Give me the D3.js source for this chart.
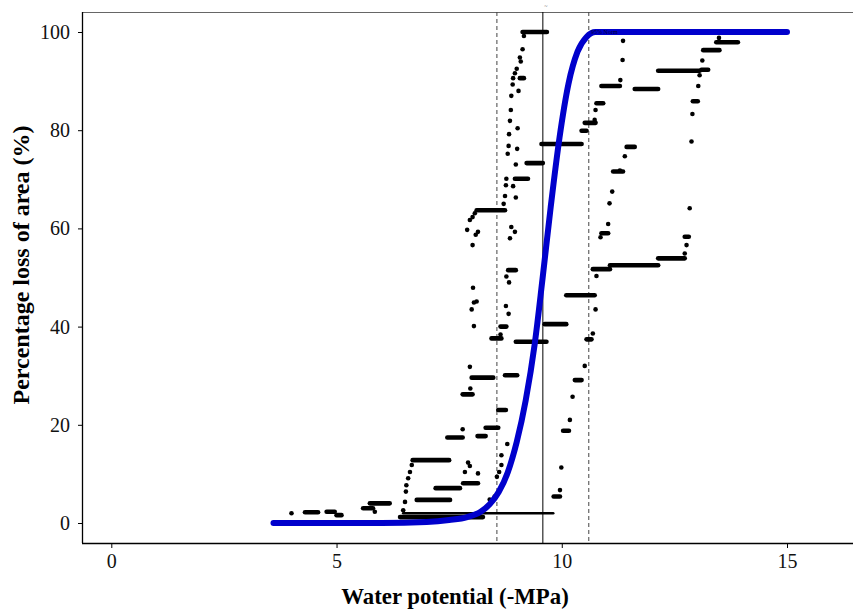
<!DOCTYPE html>
<html>
<head>
<meta charset="utf-8">
<script src="https://cdn.jsdelivr.net/npm/d3@7"></script>
<style>
  body { margin: 0; background: #fff; }
  text { font-family: "Liberation Serif", "Times New Roman", serif; }
</style>
</head>
<body>
<svg width="853" height="612"></svg>
<script>
// fitted curve
var curveX = [3.6, 6.0, 7.0, 7.5, 7.9, 8.2, 8.4, 8.6, 8.8, 9.0, 9.2, 9.4, 9.57, 9.75, 9.95, 10.15, 10.35, 10.55, 10.75, 15.0];
var curveY = [0, 0, 0.2, 0.6, 1.2, 2.3, 3.8, 6.3, 10.3, 16.5, 25.0, 36.5, 49.5, 64, 78.5, 89.5, 96, 99, 100, 100];

// reference lines: lower CI, P50, upper CI
var vlines = [8.56, 9.58, 10.6];

// single measured points [water potential, PLA]
var dots = [
  [9.16, 99.2], [9.13, 96.5], [9.07, 94.8], [9.09, 94.0], [9.00, 92.5], [8.96, 91.6], [8.92, 90.6],
  [8.91, 89.3], [9.04, 88.0], [8.88, 87.0], [8.87, 84.1], [8.85, 81.9], [9.02, 80.4], [8.83, 79.2],
  [8.82, 76.8], [9.01, 76.2], [8.80, 75.2], [8.98, 73.0], [8.77, 70.1], [8.76, 68.8], [8.92, 68.6],
  [8.74, 66.6], [8.98, 66.3], [8.71, 65.0], [8.88, 60.3], [8.96, 59.3], [8.85, 58.0], [8.77, 50.2],
  [8.83, 49.0], [8.76, 44.2], [8.82, 42.6], [8.64, 38.4], [7.96, 31.8], [7.97, 27.4], [7.80, 19.1],
  [8.79, 16.1], [8.66, 13.8], [8.66, 11.8], [8.61, 10.4], [8.56, 9.4], [8.51, 5.4], [8.40, 4.8],
  [8.07, 63.1], [8.02, 62.3], [7.96, 61.7], [7.90, 59.7], [8.09, 58.7], [8.14, 59.3], [8.02, 56.6],
  [8.03, 47.9], [8.05, 44.9], [8.11, 45.1], [8.00, 43.5], [8.05, 40.1],
  [6.67, 11.8], [6.63, 10.4], [6.59, 9.1], [6.55, 7.7], [6.54, 6.4], [6.52, 4.3], [6.48, 2.6],
  [7.92, 12.3], [7.96, 11.6], [7.85, 10.4], [8.14, 10.1], [4.00, 2.0], [5.85, 2.3],
  [10.75, 43.5], [10.69, 38.6], [10.51, 32.0], [10.24, 25.7], [10.18, 21.0], [9.99, 11.3], [9.96, 6.7],
  [10.77, 50.3], [10.73, 82.1], [10.75, 84.1], [11.30, 90.2], [11.35, 94.3], [11.36, 98.2],
  [11.40, 74.7], [11.29, 71.8], [11.12, 67.5], [11.06, 65.1], [11.03, 60.9], [10.86, 58.2],
  [12.88, 77.7], [12.90, 83.3], [13.03, 89.0], [13.06, 91.2], [13.12, 94.2], [13.49, 98.8],
  [12.84, 64.1], [12.77, 56.6], [12.73, 54.9]
];

// runs of overlapping points at one PLA value [from, to, PLA]
var runs = [
  [9.13, 9.67, 100.0], [9.07, 9.16, 90.6], [9.22, 9.58, 73.3], [8.96, 9.25, 70.1], [8.11, 8.74, 63.7],
  [8.81, 8.98, 51.5], [8.64, 8.77, 40.0], [8.44, 8.66, 37.6], [8.98, 9.66, 36.9], [8.00, 8.48, 29.6],
  [8.74, 9.01, 30.1], [7.80, 8.02, 26.2], [8.59, 8.76, 23.0], [8.31, 8.59, 19.4], [7.46, 7.80, 17.4],
  [8.13, 8.31, 17.7], [6.69, 7.50, 12.8], [7.81, 8.14, 8.1], [7.20, 7.74, 7.1], [6.78, 7.52, 4.7],
  [6.41, 8.25, 1.2], [4.30, 4.59, 2.2], [4.78, 4.96, 2.3], [5.00, 5.11, 1.6], [5.59, 5.81, 3.0],
  [5.74, 6.18, 4.0], [9.62, 10.10, 40.5], [10.55, 10.66, 37.4], [10.29, 10.44, 29.1], [10.03, 10.16, 18.8],
  [9.82, 9.96, 5.4], [10.69, 11.07, 51.7], [11.07, 12.14, 52.5], [12.14, 12.73, 53.9], [10.10, 10.73, 46.4],
  [9.55, 10.44, 77.2], [10.44, 10.55, 79.9], [10.51, 10.75, 81.5], [10.77, 10.92, 85.5], [10.88, 11.29, 89.0],
  [11.62, 12.14, 88.4], [12.14, 13.06, 92.1], [13.10, 13.25, 92.3], [13.14, 13.50, 96.3], [13.43, 13.91, 97.9],
  [12.91, 13.02, 85.9], [12.73, 12.82, 58.3], [11.44, 11.62, 76.6], [11.14, 11.36, 71.6], [10.88, 11.03, 59.0]
];
var thinRuns = [[6.48, 9.81, 2.0]];

var xTicks = [0, 5, 10, 15];
var yTicks = [0, 20, 40, 60, 80, 100];

var svg = d3.select("svg");
// panel edges (top/left/... names clash with window globals)
var pLeft = 82, pTop = 12, pBottom = 543, pRight = 870;

var x = d3.scaleLinear().domain([0, 15]).range([111.3, 787]);
var y = d3.scaleLinear().domain([0, 100]).range([523, 32]);

// panel top border
svg.append("line").attr("x1", pLeft).attr("x2", pRight).attr("y1", pTop + 0.5).attr("y2", pTop + 0.5)
  .attr("stroke", "#666").attr("stroke-width", 1.2);

// reference lines
svg.append("g").selectAll("line").data(vlines).enter().append("line")
  .attr("x1", function(d) { return x(d); })
  .attr("x2", function(d) { return x(d); })
  .attr("y1", pTop).attr("y2", pBottom)
  .attr("stroke", function(d, i) { return i == 1 ? "#000" : "#444"; })
  .attr("stroke-width", 1)
  .attr("stroke-dasharray", function(d, i) { return i == 1 ? null : "4,3"; });

// points
var pts = svg.append("g").attr("class", "points");
pts.selectAll("line.run").data(runs).enter().append("line")
  .attr("class", "run")
  .attr("x1", function(d) { return x(d[0]); })
  .attr("x2", function(d) { return x(d[1]); })
  .attr("y1", function(d) { return y(d[2]); })
  .attr("y2", function(d) { return y(d[2]); })
  .attr("stroke", "#000").attr("stroke-width", 4.6).attr("stroke-linecap", "round");
pts.selectAll("line.thin").data(thinRuns).enter().append("line")
  .attr("class", "thin")
  .attr("x1", function(d) { return x(d[0]); })
  .attr("x2", function(d) { return x(d[1]); })
  .attr("y1", function(d) { return y(d[2]); })
  .attr("y2", function(d) { return y(d[2]); })
  .attr("stroke", "#000").attr("stroke-width", 2.6).attr("stroke-linecap", "round");
pts.selectAll("circle").data(dots).enter().append("circle")
  .attr("cx", function(d) { return x(d[0]); })
  .attr("cy", function(d) { return y(d[1]); })
  .attr("r", 2.3).attr("fill", "#000");

// fitted curve
var line = d3.line()
  .x(function(d, i) { return x(d); })
  .y(function(d, i) { return y(curveY[i]); })
  .curve(d3.curveMonotoneX);
svg.append("path").attr("d", line(curveX))
  .attr("fill", "none").attr("stroke", "#0000CC").attr("stroke-width", 6)
  .attr("stroke-linecap", "round").attr("stroke-linejoin", "round");

// tiny labels
svg.append("text").attr("x", x(10.65)).attr("y", y(100) + 2.2)
  .attr("font-family", "Liberation Sans, sans-serif").attr("font-size", 6).attr("fill", "#000033")
  .text("95% Norm");
svg.append("text").attr("x", x(9.58) + 3).attr("y", 8).attr("text-anchor", "middle")
  .attr("font-size", 6).attr("fill", "#777").text("~");

// axes
var xAxis = svg.append("g").attr("transform", "translate(0," + pBottom + ")")
  .call(d3.axisBottom(x).tickValues(xTicks).tickSize(5).tickPadding(6).tickFormat(d3.format("d")));
xAxis.select(".domain").attr("d", "M" + pLeft + ",0.5H" + pRight).attr("stroke", "#000").attr("stroke-width", 1.3);
xAxis.selectAll("text").attr("font-size", 20).attr("fill", "#111")
  .attr("font-family", "Liberation Serif, serif");

var yAxis = svg.append("g").attr("transform", "translate(" + pLeft + ",0)")
  .call(d3.axisLeft(y).tickValues(yTicks).tickSize(4).tickPadding(8).tickFormat(d3.format("d")));
yAxis.select(".domain").attr("d", "M0.5," + pTop + "V" + pBottom).attr("stroke", "#000").attr("stroke-width", 1.3);
yAxis.selectAll("text").attr("font-size", 20).attr("fill", "#111")
  .attr("font-family", "Liberation Serif, serif");

// titles
svg.append("text").attr("x", 455).attr("y", 604).attr("text-anchor", "middle")
  .attr("font-size", 22.8).attr("font-weight", "bold").text("Water potential (-MPa)");
svg.append("text").attr("transform", "translate(29,265) rotate(-90)").attr("text-anchor", "middle")
  .attr("font-size", 24).attr("font-weight", "bold").text("Percentage loss of area (%)");
</script>
</body>
</html>
